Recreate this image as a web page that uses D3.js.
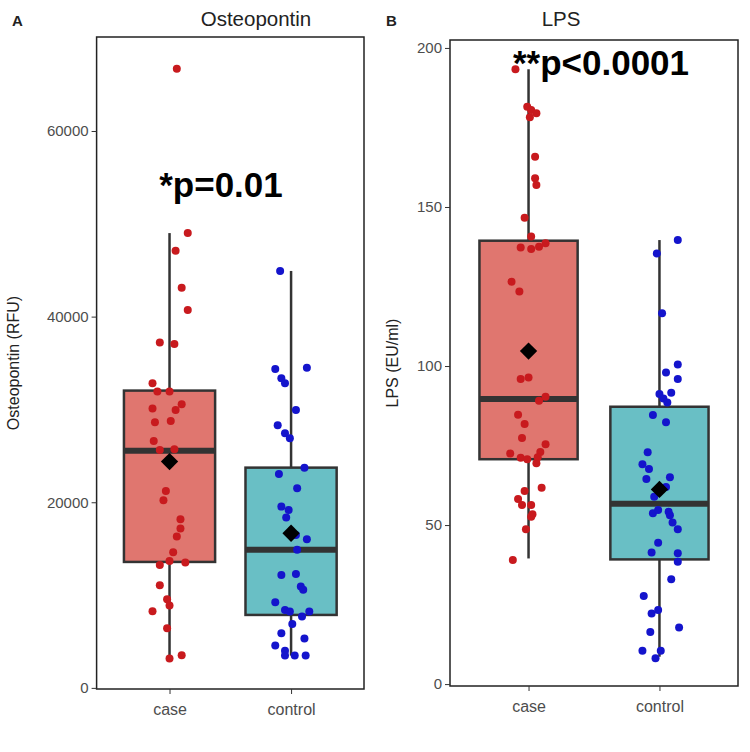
<!DOCTYPE html>
<html>
<head>
<meta charset="utf-8">
<script src="https://cdn.jsdelivr.net/npm/d3@7"></script>
<style>
  html, body { margin: 0; padding: 0; background: #fff; }
  svg { display: block; font-family: Arial, "Liberation Sans", sans-serif; }
</style>
</head>
<body>
<svg id="chart" width="750" height="752"></svg>
<script>
// ---------------- DATA ----------------
const categories = ["case", "control"];

// Panel A: Osteopontin (RFU)
const ostCase = [66700, 49000, 47100, 43100, 40700, 37200, 37060, 32820, 31920, 31920, 30560, 29950, 30090,
  28620, 28760, 26610, 25640, 25710, 21220, 20220, 18170, 17160, 16300, 14620, 13680, 13250, 13500,
  11060, 9550, 8870, 8260, 6430, 3160, 3520];
const ostCaseJitter = [0.06, 0.15, 0.05, 0.10, 0.15, -0.08, 0.04, -0.14, -0.10, 0.00, 0.10, 0.05, -0.14,
  -0.12, 0.01, -0.13, -0.08, 0.04, -0.03, -0.05, 0.09, 0.09, 0.06, 0.03, 0.00, -0.08, 0.13,
  -0.08, -0.02, 0.00, -0.14, -0.02, 0.00, 0.10];
const ostControl = [44920, 34360, 34500, 33360, 32820, 29950, 28300, 27430, 26900, 23730, 23050, 21510,
  19530, 19170, 18350, 16480, 16010, 14870, 12170, 12280, 10910, 10560, 9230, 8400, 8220, 7680, 8220,
  6890, 5890, 5310, 4560, 3990, 3480, 3480, 3480];
const ostControlJitter = [-0.09, -0.13, 0.13, -0.08, -0.05, 0.04, -0.11, -0.05, -0.01, 0.11, -0.10, 0.05,
  -0.08, -0.02, -0.04, 0.04, 0.13, 0.05, -0.08, 0.04, 0.08, 0.10, -0.13, -0.05, -0.01, 0.09, 0.15,
  0.01, -0.08, 0.11, -0.13, -0.05, -0.05, 0.03, 0.12];
// box statistics per category [case, control]
const ostLow = [3160, 3480];
const ostQ1 = [13570, 7860];
const ostMedian = [25560, 14870];
const ostQ3 = [32030, 23730];
const ostHigh = [49000, 44920];
const ostMean = [24380, 16660];
const ostTicks = [0, 20000, 40000, 60000];

// Panel B: LPS (EU/ml)
const lpsCase = [193.3, 181.5, 180.5, 179.5, 178.2, 165.8, 159.0, 156.9, 146.6, 140.7, 137.3, 136.8, 137.5,
  138.6, 126.5, 123.4, 95.9, 96.4, 89.1, 90.3, 84.7, 81.8, 77.4, 75.4, 72.5, 73.0, 71.2, 70.7, 71.3, 69.4,
  61.7, 60.7, 58.2, 56.3, 56.3, 53.4, 52.6, 48.7, 39.0];
const lpsCaseJitter = [-0.10, -0.01, 0.02, 0.06, 0.01, 0.05, 0.05, 0.06, -0.03, 0.02, -0.06, 0.02, 0.08,
  0.13, -0.13, -0.07, -0.06, 0.00, 0.08, 0.13, -0.08, -0.03, -0.05, 0.13, -0.14, 0.09, -0.06, -0.01, 0.07, 0.06,
  0.10, -0.03, -0.08, -0.05, 0.02, 0.03, 0.02, -0.02, -0.12];
const lpsControl = [139.6, 135.4, 116.6, 100.5, 98.0, 95.9, 91.6, 91.2, 89.8, 88.5, 84.6, 82.3, 72.9, 69.1,
  67.6, 64.5, 65.0, 62.0, 58.9, 53.7, 54.7, 54.2, 53.1, 50.8, 48.7, 44.4, 41.4, 41.1, 38.5, 33.0, 27.7,
  22.2, 23.3, 16.4, 17.8, 10.5, 10.5, 8.1];
const lpsControlJitter = [0.14, -0.02, 0.02, 0.14, 0.05, 0.14, 0.09, 0.00, 0.03, 0.06, -0.05, 0.05, -0.09, -0.13,
  -0.08, -0.10, 0.08, 0.05, -0.04, -0.05, -0.01, 0.07, 0.08, 0.10, 0.14, -0.01, -0.06, 0.14, 0.14, 0.09, -0.12,
  -0.06, -0.01, -0.07, 0.15, -0.13, 0.01, -0.03];
const lpsLow = [39.5, 8.6];
const lpsQ1 = [70.7, 39.2];
const lpsMedian = [89.6, 56.7];
const lpsQ3 = [139.4, 87.2];
const lpsHigh = [193.3, 139.6];
const lpsMean = [104.7, 61.2];
const lpsTicks = [0, 50, 100, 150, 200];

const panelTitles = ["Osteopontin", "LPS"];
const panelTags = ["A", "B"];
const yTitles = ["Osteopontin (RFU)", "LPS (EU/ml)"];
const pLabels = ["*p=0.01", "**p<0.0001"];

// ---------------- STYLE ----------------
const boxFill = ["#E0766F", "#69BFC5"];
const dotFill = ["#C81A1E", "#1414CC"];
const lineCol = "#333333";

const svg = d3.select("#chart");

const panels = [
  {
    tag: panelTags[0], title: panelTitles[0], ytitle: yTitles[0], plabel: pLabels[0],
    left: 96.6, right: 364, top: 37, bottom: 689, ydomain: [-120, 70126],
    ticks: ostTicks,
    series: [[ostCase, ostCaseJitter], [ostControl, ostControlJitter]],
    low: ostLow, q1: ostQ1, med: ostMedian, q3: ostQ3, high: ostHigh, mean: ostMean,
    tagX: 12, titleX: 256, ytitleX: 19, plabelX: 221, plabelY: 197
  },
  {
    tag: panelTags[1], title: panelTitles[1], ytitle: yTitles[1], plabel: pLabels[1],
    left: 450, right: 738, top: 40, bottom: 686, ydomain: [-0.6, 202.5],
    ticks: lpsTicks,
    series: [[lpsCase, lpsCaseJitter], [lpsControl, lpsControlJitter]],
    low: lpsLow, q1: lpsQ1, med: lpsMedian, q3: lpsQ3, high: lpsHigh, mean: lpsMean,
    tagX: 386, titleX: 561, ytitleX: 398, plabelX: 601, plabelY: 75
  }
];

panels.forEach(p => {
  const g = svg.append("g");
  const x = d3.scalePoint().domain(categories).range([p.left, p.right]).padding(0.6);
  const step = x.step();
  const y = d3.scaleLinear().domain(p.ydomain).range([p.bottom, p.top]);
  const bw = step * 0.75;

  // tag and title
  g.append("text").attr("x", p.tagX).attr("y", 26).attr("font-size", 15).attr("font-weight", "bold")
    .attr("fill", "#222").text(p.tag);
  g.append("text").attr("x", p.titleX).attr("y", 26).attr("text-anchor", "middle").attr("font-size", 20.5)
    .attr("fill", "#222").text(p.title);

  // boxes
  categories.forEach((c, i) => {
    const cx = x(c);
    g.append("line").attr("x1", cx).attr("x2", cx).attr("y1", y(p.high[i])).attr("y2", y(p.q3[i]))
      .attr("stroke", lineCol).attr("stroke-width", 2.5);
    g.append("line").attr("x1", cx).attr("x2", cx).attr("y1", y(p.q1[i])).attr("y2", y(p.low[i]))
      .attr("stroke", lineCol).attr("stroke-width", 2.5);
    g.append("rect").attr("x", cx - bw / 2).attr("width", bw)
      .attr("y", y(p.q3[i])).attr("height", y(p.q1[i]) - y(p.q3[i]))
      .attr("fill", boxFill[i]).attr("stroke", lineCol).attr("stroke-width", 2.5);
    g.append("line").attr("x1", cx - bw / 2).attr("x2", cx + bw / 2).attr("y1", y(p.med[i])).attr("y2", y(p.med[i]))
      .attr("stroke", lineCol).attr("stroke-width", 6);
  });

  // jittered points
  categories.forEach((c, i) => {
    const [vals, jit] = p.series[i];
    g.append("g").selectAll("circle").data(vals).join("circle")
      .attr("cx", (d, k) => x(c) + jit[k] * step)
      .attr("cy", d => y(d))
      .attr("r", 4)
      .attr("fill", dotFill[i]);
  });

  // mean diamonds
  const diamond = d3.symbol().type(d3.symbolSquare).size(150);
  categories.forEach((c, i) => {
    g.append("path").attr("d", diamond())
      .attr("transform", `translate(${x(c)},${y(p.mean[i])}) rotate(45)`)
      .attr("fill", "#000");
  });

  // frame
  g.append("rect").attr("x", p.left).attr("y", p.top).attr("width", p.right - p.left)
    .attr("height", p.bottom - p.top).attr("fill", "none").attr("stroke", "#222").attr("stroke-width", 1.5);

  // axes
  const yAxis = d3.axisLeft(y).tickValues(p.ticks).tickSize(5).tickPadding(3).tickFormat(d3.format("d"));
  const ya = g.append("g").attr("transform", `translate(${p.left},0)`).call(yAxis);
  ya.select(".domain").remove();
  ya.selectAll("line").attr("stroke", lineCol);
  ya.selectAll("text").attr("font-size", 15).attr("fill", "#4d4d4d").attr("font-family", "Arial, 'Liberation Sans', sans-serif");

  const xAxis = d3.axisBottom(x).tickSize(5).tickPadding(4);
  const xa = g.append("g").attr("transform", `translate(0,${p.bottom})`).call(xAxis);
  xa.select(".domain").remove();
  xa.selectAll("line").attr("stroke", lineCol);
  xa.selectAll("text").attr("font-size", 16).attr("fill", "#4d4d4d").attr("dy", "1.05em").attr("font-family", "Arial, 'Liberation Sans', sans-serif");

  // y title
  g.append("text")
    .attr("transform", `translate(${p.ytitleX},${(p.top + p.bottom) / 2}) rotate(-90)`)
    .attr("text-anchor", "middle").attr("font-size", 16).attr("fill", "#222").text(p.ytitle);

  // p-value label
  g.append("text").attr("x", p.plabelX).attr("y", p.plabelY).attr("text-anchor", "middle")
    .attr("font-size", 35).attr("font-weight", "bold").attr("fill", "#000").text(p.plabel);
});
</script>
</body>
</html>
